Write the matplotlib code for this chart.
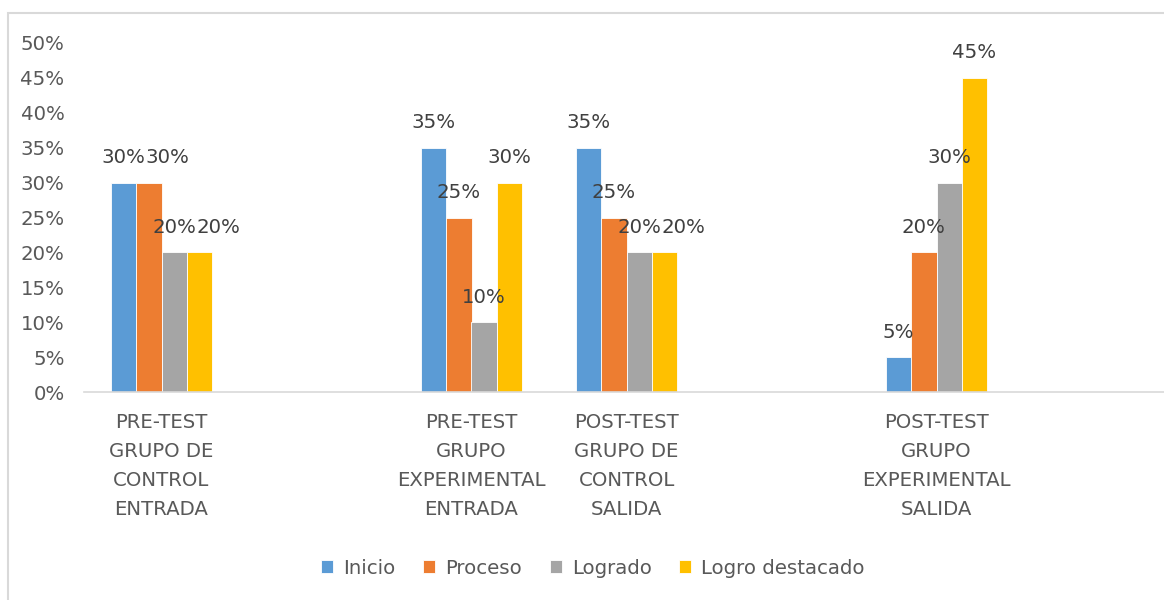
import matplotlib
matplotlib.use("Agg")
import matplotlib.pyplot as plt
import numpy as np
from matplotlib.patches import Rectangle

categories = ["PRE-TEST\nGRUPO DE\nCONTROL\nENTRADA", "",
              "PRE-TEST\nGRUPO\nEXPERIMENTAL\nENTRADA",
              "POST-TEST\nGRUPO DE\nCONTROL\nSALIDA", "",
              "POST-TEST\nGRUPO\nEXPERIMENTAL\nSALIDA", ""]
series_names = ["Inicio", "Proceso", "Logrado", "Logro destacado"]
inicio = [0.30, None, 0.35, 0.35, None, 0.05, None]
proceso = [0.30, None, 0.25, 0.25, None, 0.20, None]
logrado = [0.20, None, 0.10, 0.20, None, 0.30, None]
logro_destacado = [0.20, None, 0.30, 0.20, None, 0.45, None]
yticks = [0, 0.05, 0.10, 0.15, 0.20, 0.25, 0.30, 0.35, 0.40, 0.45, 0.50]
colors = ["#5B9BD5", "#ED7D31", "#A5A5A5", "#FFC000"]

plt.rcParams['font.family'] = ['DejaVu Sans']
txt = "#595959"
fs = 14.2

fig = plt.figure(figsize=(11.64, 6.0), dpi=100)
fig.patches.append(Rectangle((8/1164, -0.01), 1.1, (600-13)/600 + 0.01,
                             transform=fig.transFigure, fill=False,
                             edgecolor="#d9d9d9", linewidth=1.5))
ax = fig.add_axes([84/1164, (600-392)/600, 1085/1164, (392-43)/600])

x = np.arange(len(categories))
bw = 0.1625
all_series = [inicio, proceso, logrado, logro_destacado]
for i, (name, vals, c) in enumerate(zip(series_names, all_series, colors)):
    pos = x + (i - 1.5) * bw
    h = [np.nan if v is None else v for v in vals]
    ax.bar(pos, h, width=bw, color=c, label=name, edgecolor="white", linewidth=0.6)
    for k, (p, v) in enumerate(zip(pos, vals)):
        if v is None:
            continue
        # avoid collision like Excel: push label right when previous bar label is at same height
        dx = 0
        if i > 0 and all_series[i - 1][k] == v:
            dx = 13.5
        ax.annotate(f"{int(round(v*100))}%", (p, v), xytext=(dx, 18),
                    textcoords="offset points", ha="center", va="center",
                    fontsize=fs, color="#404040")

ax.set_xlim(-0.5, len(categories) - 0.5)
ax.set_ylim(0, 0.5)
ax.set_yticks(yticks)
ax.set_yticklabels([f"{int(round(t*100))}%" for t in yticks])
ax.set_xticks(x)
ax.set_xticklabels(categories, linespacing=1.66)
ax.tick_params(axis="y", length=0, pad=14, labelsize=fs, labelcolor=txt)
ax.tick_params(axis="x", length=0, pad=15, labelsize=fs, labelcolor=txt)
for s in ["top", "right", "left"]:
    ax.spines[s].set_visible(False)
ax.spines["bottom"].set_color("#d9d9d9")
ax.spines["bottom"].set_linewidth(1.2)

leg = fig.legend(loc="center", bbox_to_anchor=(593/1164, 1 - 568/600), ncol=4,
                 frameon=False, fontsize=fs, handlelength=0.62, handleheight=0.62,
                 handletextpad=0.5, columnspacing=1.4)
for t in leg.get_texts():
    t.set_color(txt)

fig.savefig("out.png", dpi=100)
